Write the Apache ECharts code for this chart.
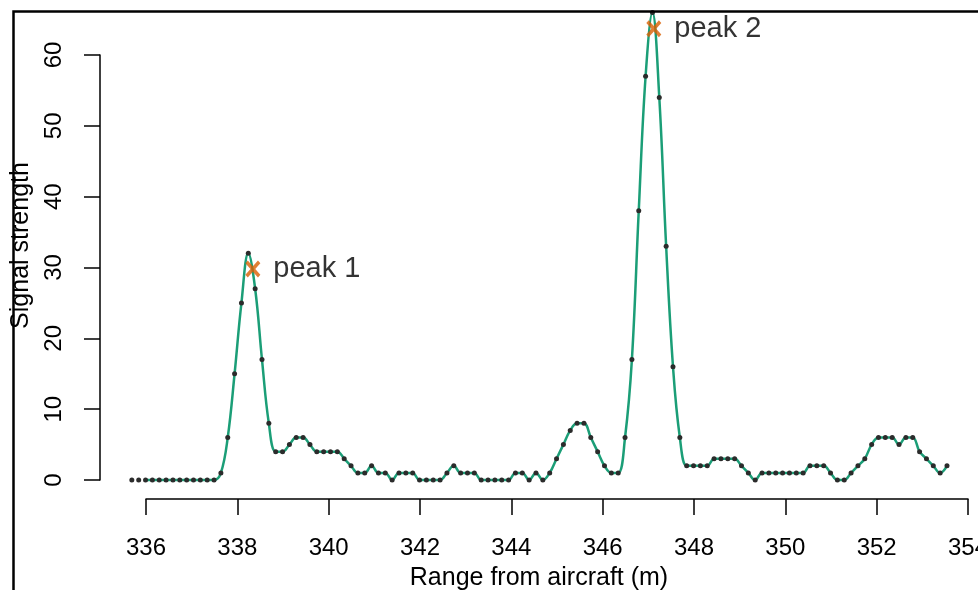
<!DOCTYPE html>
<html>
<head>
<meta charset="utf-8">
<script src="https://cdn.jsdelivr.net/npm/echarts@6/dist/echarts.min.js"></script>
<style>
html,body{margin:0;padding:0;background:#fff;overflow:hidden;}
#c{width:978px;height:590px;}
</style>
</head>
<body>
<div id="c"></div>
<script>
// Range from aircraft (m)
var rangeX = [
335.69,335.84,335.99,336.14,336.29,336.44,336.59,336.74,336.89,337.04,
337.19,337.34,337.49,337.64,337.79,337.94,338.09,338.24,338.39,338.54,
338.69,338.84,338.99,339.14,339.29,339.44,339.59,339.74,339.89,340.04,
340.19,340.34,340.49,340.64,340.79,340.94,341.09,341.24,341.39,341.54,
341.69,341.84,341.99,342.14,342.29,342.44,342.59,342.74,342.89,343.04,
343.19,343.34,343.49,343.64,343.79,343.94,344.09,344.24,344.39,344.54,
344.69,344.84,344.99,345.14,345.29,345.44,345.59,345.74,345.89,346.04,
346.19,346.34,346.49,346.64,346.79,346.94,347.09,347.24,347.39,347.54,
347.69,347.84,347.99,348.14,348.29,348.44,348.59,348.74,348.89,349.04,
349.19,349.34,349.49,349.64,349.79,349.94,350.09,350.24,350.39,350.54,
350.69,350.84,350.99,351.14,351.29,351.44,351.59,351.74,351.89,352.04,
352.19,352.34,352.49,352.64,352.79,352.94,353.09,353.24,353.39,353.54
];
// Signal strength
var signal = [
0,0,0,0,0,0,0,0,0,0,
0,0,0,1,6,15,25,32,27,17,
8,4,4,5,6,6,5,4,4,4,
4,3,2,1,1,2,1,1,0,1,
1,1,0,0,0,0,1,2,1,1,
1,0,0,0,0,0,1,1,0,1,
0,1,3,5,7,8,8,6,4,2,
1,1,6,17,38,57,66,54,33,16,
6,2,2,2,2,3,3,3,3,2,
1,0,1,1,1,1,1,1,1,2,
2,2,1,0,0,1,2,3,5,6,
6,6,5,6,6,4,3,2,1,2
];
// Peak estimates
var peakX = [338.34, 347.12];
var peakY = [29.8, 63.7];
var peakNames = ['peak 1', 'peak 2'];
// Axis ticks
var xTicks = [336, 338, 340, 342, 344, 346, 348, 350, 352, 354];
var yTicks = [0, 10, 20, 30, 40, 50, 60];

var lineData = rangeX.map(function (x, i) { return [x, signal[i]]; });
var peakData = peakX.map(function (x, i) { return { value: [x, peakY[i]], name: peakNames[i] }; });

var FONT = 'Liberation Sans, Arial, Helvetica, sans-serif';
var xShape = 'path://M0,1.6 L1.6,0 L5,3.4 L8.4,0 L10,1.6 L6.6,5 L10,8.4 L8.4,10 L5,6.6 L1.6,10 L0,8.4 L3.4,5 Z';

var chart = echarts.init(document.getElementById('c'), null, { renderer: 'canvas', width: 978, height: 590 });
chart.setOption({
  animation: false,
  backgroundColor: '#ffffff',
  grid: { left: 146, right: 10, top: 55, bottom: 110, containLabel: false, outerBoundsMode: 'none' },
  xAxis: {
    type: 'value',
    min: xTicks[0], max: xTicks[xTicks.length - 1], interval: 2,
    offset: 19,
    axisLine: { show: true, onZero: false, lineStyle: { color: '#000', width: 1.5 } },
    axisTick: { show: true, length: 16, lineStyle: { color: '#000', width: 1.5 } },
    axisLabel: { color: '#000', fontSize: 24, fontFamily: FONT, margin: 37, hideOverlap: false },
    splitLine: { show: false },
    name: 'Range from aircraft (m)',
    nameLocation: 'middle',
    nameGap: 67,
    nameTextStyle: { color: '#000', fontSize: 25, fontFamily: FONT, padding: [0, 36, 0, 0] }
  },
  yAxis: {
    type: 'value',
    min: yTicks[0], max: yTicks[yTicks.length - 1], interval: 10,
    offset: 46,
    axisLine: { show: true, onZero: false, lineStyle: { color: '#000', width: 1.5 } },
    axisTick: { show: true, length: 16, lineStyle: { color: '#000', width: 1.5 } },
    axisLabel: { color: '#000', fontSize: 24, fontFamily: FONT, margin: 34, rotate: 90 },
    splitLine: { show: false },
    name: 'Signal strength',
    nameLocation: 'middle',
    nameRotate: 90,
    nameGap: 63,
    nameTextStyle: { color: '#000', fontSize: 25, fontFamily: FONT, padding: [0, 0, 0, 44] }
  },
  series: [
    {
      type: 'line',
      data: lineData,
      smooth: 0.4,
      clip: false,
      symbol: 'circle',
      symbolSize: 5,
      showSymbol: true,
      itemStyle: { color: '#2b2b2b' },
      lineStyle: { color: '#1B9E77', width: 2.5 },
      z: 2
    },
    {
      type: 'scatter',
      data: peakData,
      symbol: xShape,
      symbolSize: [15, 17],
      clip: false,
      itemStyle: { color: '#D95F02' },
      label: {
        show: true,
        position: 'right',
        distance: 13,
        formatter: '{b}',
        color: '#000',
        fontSize: 29,
        fontFamily: FONT
      },
      z: 3
    }
  ],
  graphic: [
    {
      type: 'rect',
      left: 11, top: 9,
      shape: { width: 1000, height: 620 },
      style: { fill: 'none', stroke: '#000', lineWidth: 2.5 },
      silent: true,
      z: 100
    }
  ]
});
</script>
</body>
</html>
